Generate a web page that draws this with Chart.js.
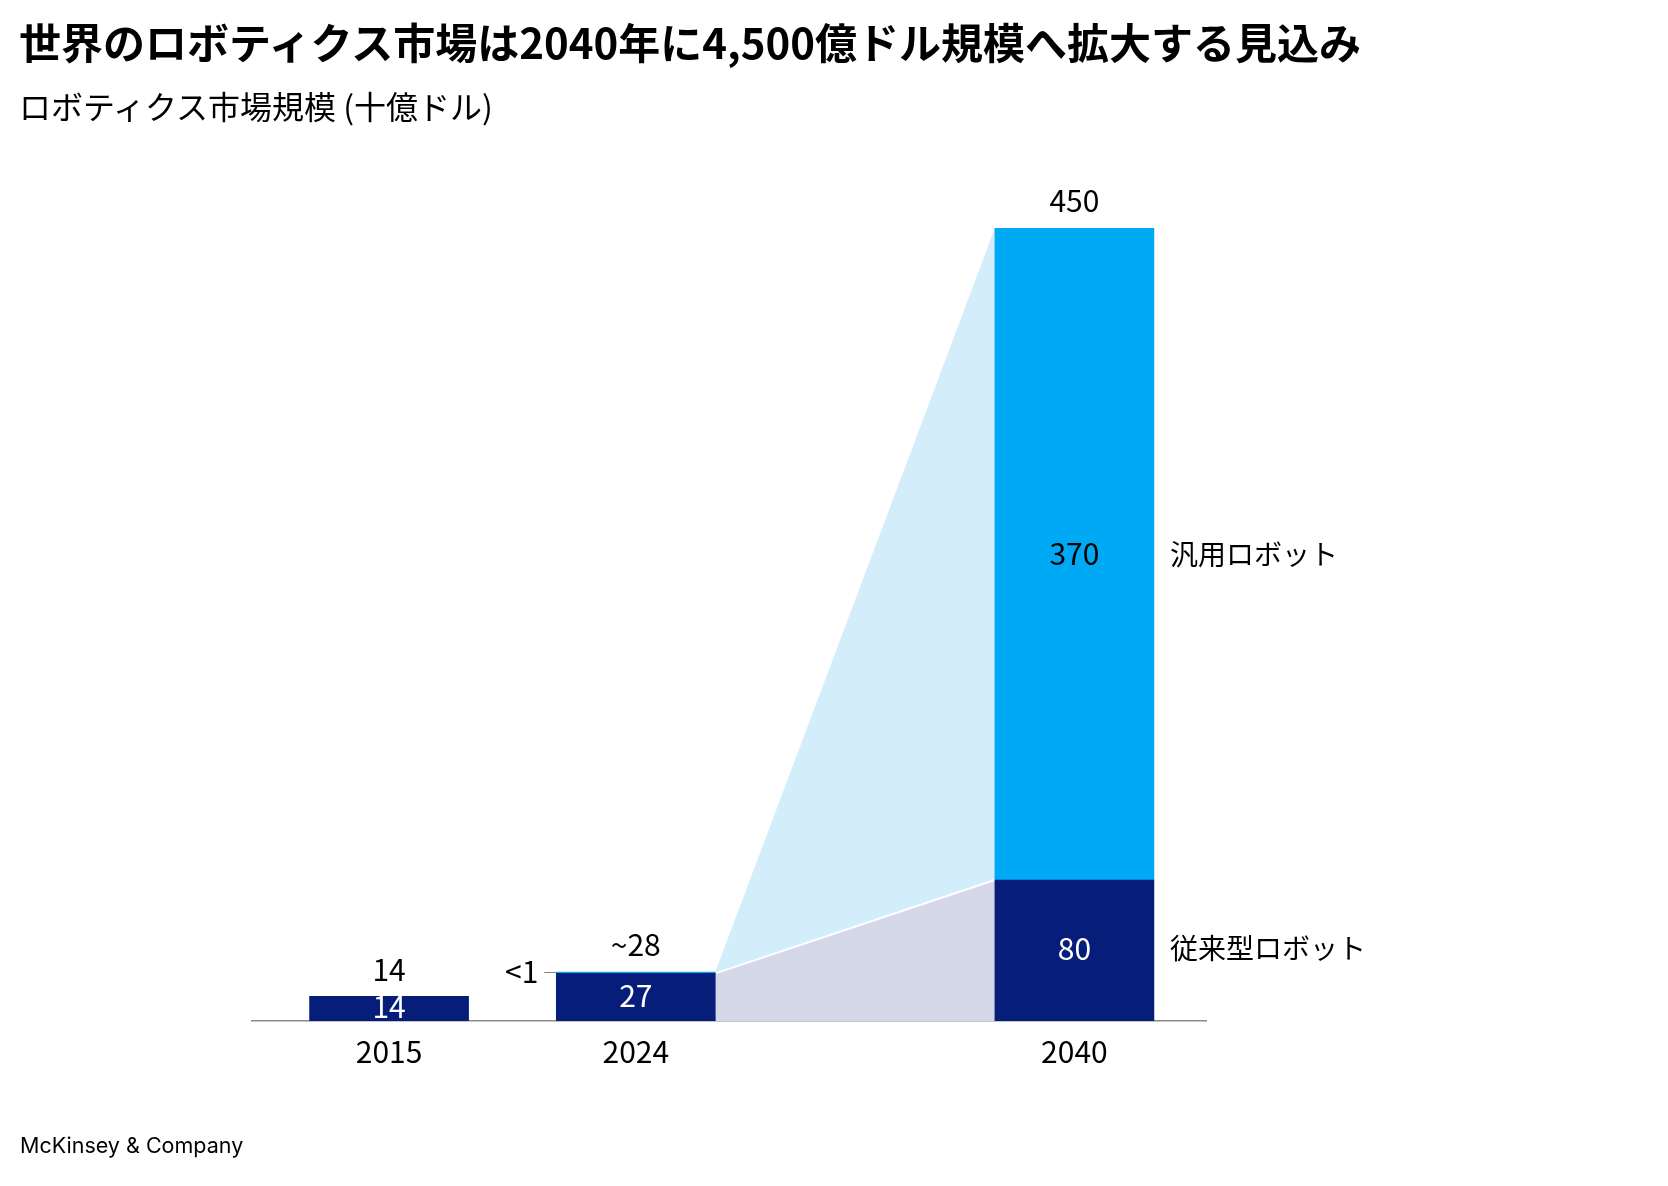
<!DOCTYPE html>
<html lang="ja">
<head>
<meta charset="utf-8">
<title>世界のロボティクス市場</title>
<script src="https://cdn.jsdelivr.net/npm/chart.js@4.4.1/dist/chart.umd.min.js"></script>
<style>
  html, body { margin: 0; padding: 0; background: #fff; }
  body { width: 1668px; height: 1186px; position: relative; overflow: hidden; font-family: "Noto Sans CJK JP", sans-serif; color: #000; }
  #title { position: absolute; left: 19px; top: 10px; font-size: 42px; font-weight: 700; white-space: nowrap; }
  #subtitle { position: absolute; left: 19px; top: 82px; font-size: 32px; font-weight: 400; white-space: nowrap; }
  #footer { position: absolute; left: 20px; top: 1132px; font-family: Inter, "Liberation Sans", sans-serif; font-size: 21.5px; white-space: nowrap; }
  #wrap { position: absolute; left: 0; top: 0; width: 1668px; height: 1186px; }
</style>
</head>
<body>
<div id="wrap"><canvas id="chartRobotics"></canvas></div>
<div id="title">世界のロボティクス市場は2040年に4,500億ドル規模へ拡大する見込み</div>
<div id="subtitle">ロボティクス市場規模 (十億ドル)</div>
<div id="footer">McKinsey &amp; Company</div>
<script>
// data
var years = [2015, 2024, 2040];
var conventional = [14, 27, 80];      // 従来型ロボット
var general = [0, 0.8, 370];          // 汎用ロボット
var totalLabels = ["14", "~28", "450"];
var conventionalLabels = ["14", "27", "80"];
var generalLabels = ["", "<1", "370"];
var seriesNames = ["従来型ロボット", "汎用ロボット"];

var navy = "#061e79";
var cyan = "#00a9f4";
var cyanLight = "#d3edfb";
var lavender = "#d4d7e7";
var jpFont = "'Noto Sans CJK JP', sans-serif";

// shaded connector between 2024 and 2040 bars
var connectorPlugin = {
    id: "connector",
    beforeDatasetsDraw: function (chart) {
        var ctx = chart.ctx;
        var dark = chart.getDatasetMeta(0).data;
        var light = chart.getDatasetMeta(1).data;
        var a = dark[1], b = light[1], c = dark[2], d = light[2];
        var xr = a.x + a.width / 2;
        var xl = c.x - c.width / 2;
        ctx.save();
        ctx.fillStyle = lavender;
        ctx.beginPath();
        ctx.moveTo(xr, a.y);
        ctx.lineTo(xl, c.y);
        ctx.lineTo(xl, c.base);
        ctx.lineTo(xr, a.base);
        ctx.closePath();
        ctx.fill();
        ctx.fillStyle = cyanLight;
        ctx.beginPath();
        ctx.moveTo(xr, b.y);
        ctx.lineTo(xl, d.y);
        ctx.lineTo(xl, c.y);
        ctx.lineTo(xr, a.y);
        ctx.closePath();
        ctx.fill();
        ctx.strokeStyle = "#ffffff";
        ctx.lineWidth = 2;
        ctx.beginPath();
        ctx.moveTo(xr, a.y);
        ctx.lineTo(xl, c.y);
        ctx.stroke();
        ctx.restore();
    }
};

// value labels and series names
var labelPlugin = {
    id: "labels",
    afterDatasetsDraw: function (chart) {
        var ctx = chart.ctx;
        var dark = chart.getDatasetMeta(0).data;
        var light = chart.getDatasetMeta(1).data;
        ctx.save();
        ctx.font = "400 30px " + jpFont;
        ctx.textBaseline = "middle";
        ctx.textAlign = "center";
        for (var i = 0; i < years.length; i++) {
            var dk = dark[i], lt = light[i];
            var top = Math.min(dk.y, lt.y);
            ctx.fillStyle = "#000";
            ctx.fillText(totalLabels[i], dk.x, top - 27);
            ctx.fillStyle = "#fff";
            ctx.fillText(conventionalLabels[i], dk.x, (dk.y + dk.base) / 2 - 2);
            if (i === 2) {
                ctx.fillStyle = "#000";
                ctx.fillText(generalLabels[i], lt.x, (lt.y + lt.base) / 2);
            }
        }
        // "<1" with leader line
        var s = light[1];
        var left = s.x - s.width / 2;
        ctx.strokeStyle = "#888";
        ctx.lineWidth = 1;
        ctx.beginPath();
        ctx.moveTo(left - 12, s.y + 0.5);
        ctx.lineTo(left, s.y + 0.5);
        ctx.stroke();
        ctx.fillStyle = "#000";
        ctx.textAlign = "right";
        ctx.fillText(generalLabels[1], left - 18, s.y);
        // series names at right of last bar
        var last = dark[2], lastLight = light[2];
        var right = last.x + last.width / 2 + 16;
        ctx.textAlign = "left";
        ctx.font = "400 28px " + jpFont;
        ctx.fillText(seriesNames[0], right, (last.y + last.base) / 2 - 2);
        ctx.fillText(seriesNames[1], right, (lastLight.y + lastLight.base) / 2);
        ctx.restore();
    }
};

var ctx = document.getElementById("chartRobotics");

new Chart(ctx, {
    type: "bar",
    data: {
        datasets: [
            {
                label: seriesNames[0],
                data: years.map(function (y, i) { return { x: y, y: conventional[i] }; }),
                backgroundColor: navy,
                barThickness: 159,
            },
            {
                label: seriesNames[1],
                data: years.map(function (y, i) { return { x: y, y: general[i] }; }),
                backgroundColor: cyan,
                barThickness: 159,
            },
        ],
    },
    options: {
        responsive: true,
        maintainAspectRatio: false,
        animation: false,
        layout: {
            padding: { left: 252, right: 462, top: 228, bottom: 0 },
        },
        plugins: {
            legend: { display: false },
            tooltip: { enabled: false },
        },
        scales: {
            x: {
                type: "linear",
                stacked: true,
                min: 2010,
                max: 2044.8,
                offset: false,
                grid: { display: false, drawTicks: false },
                border: { display: true, color: "#8a8a8a", width: 1.5 },
                afterBuildTicks: function (scale) {
                    scale.ticks = years.map(function (v) { return { value: v }; });
                },
                afterFit: function (scale) {
                    scale.height = 165;
                },
                ticks: {
                    padding: 13,
                    color: "#000",
                    font: { family: jpFont, size: 30 },
                    callback: function (v) { return String(v); },
                },
            },
            y: {
                stacked: true,
                display: false,
                min: 0,
                max: 450,
            },
        },
    },
    plugins: [connectorPlugin, labelPlugin],
});
</script>
</body>
</html>
